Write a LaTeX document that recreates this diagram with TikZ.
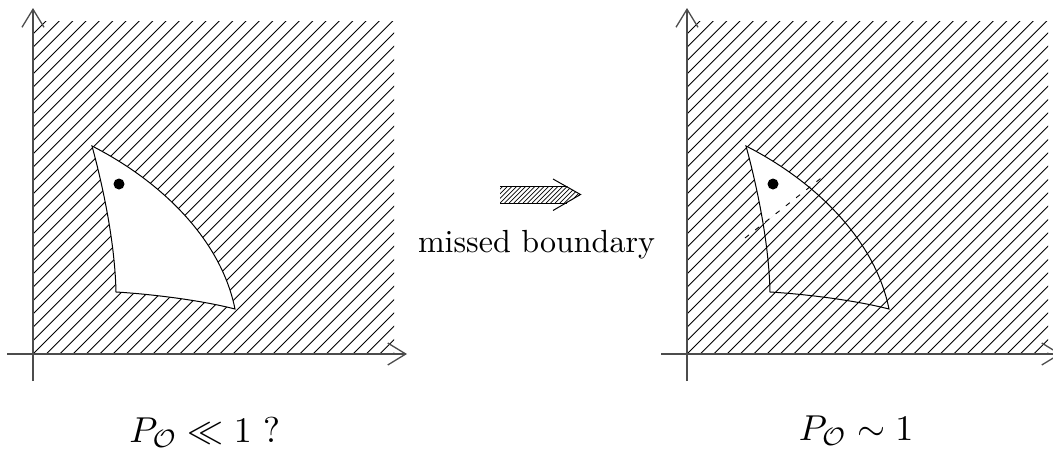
\documentclass[tikz,border=0pt]{standalone}
\usetikzlibrary{arrows.meta}
\begin{document}
\begin{tikzpicture}[x=1pt,y=-1pt,
  hatch/.style={line width=0.9pt,black},
  axisline/.style={line width=1.3pt,black!70,-{Straight Barb[length=18pt,width=22pt,line width=1.3pt]}},
  outline/.style={line width=1pt,black},
  bigmath/.style={scale=3.6},
  midtext/.style={scale=3.2}]
\useasboundingbox (0,0) rectangle (1053,448);
\def\regionpath{(92,146) .. controls (104,190) and (115,245) .. (116,292) .. controls (150,294) and (200,300) .. (235,309) .. controls (220,235) and (155,178) .. (92,146) -- cycle}
% ---------- left panel
\begin{scope}
  \clip (33,21) rectangle (394,354);
  \foreach \k in {-24,...,28} \draw[hatch] ({33+13.333*\k},354) -- ++(340,-340);
\end{scope}
\fill[white] \regionpath;
\draw[outline] \regionpath;
\fill (119,184) circle (5.5);
\draw[axisline] (33,381) -- (33,8);
\draw[axisline] (7,354) -- (407,354);
% ---------- right panel
\begin{scope}[shift={(654,0)}]
  \begin{scope}
    \clip (33,21) rectangle (394,354);
    \foreach \k in {-24,...,28} \draw[hatch] ({33+13.333*\k},354) -- ++(340,-340);
  \end{scope}
  \begin{scope}
    \clip \regionpath;
    \fill[white] (66,258) -- (196,155) -- (196,100) -- (46,100) -- cycle;
  \end{scope}
  \draw[line width=0.9pt,dash pattern=on 5pt off 8pt] (91,238) -- (171,175);
  \draw[outline] \regionpath;
  \fill (119,184) circle (5.5);
  \draw[axisline] (33,381) -- (33,8);
  \draw[axisline] (7,354) -- (407,354);
\end{scope}
% ---------- middle arrow
\begin{scope}
  \clip (500,186) -- (567,186) -- (580.5,194.5) -- (567,203) -- (500,203) -- cycle;
  \foreach \k in {-5,...,22} \draw[line width=0.7pt] ({500+4.6*\k},203) -- ++(20,-20);
\end{scope}
\draw[outline] (567,186) -- (500,186);
\draw[outline] (500,203) -- (567,203);
\draw[outline] (553,179) -- (580.5,194.5) -- (553,210.5);
% ---------- texts
\node[midtext,anchor=base] (mb) at (536.5,252) {missed boundary};
\node[bigmath,anchor=base] (pl) at (205,442) {$P_{\mathcal O} \ll 1$ ?};
\node[bigmath,anchor=base] (pr) at (856,440) {$P_{\mathcal O} \sim 1$};
\end{tikzpicture}
\end{document}
